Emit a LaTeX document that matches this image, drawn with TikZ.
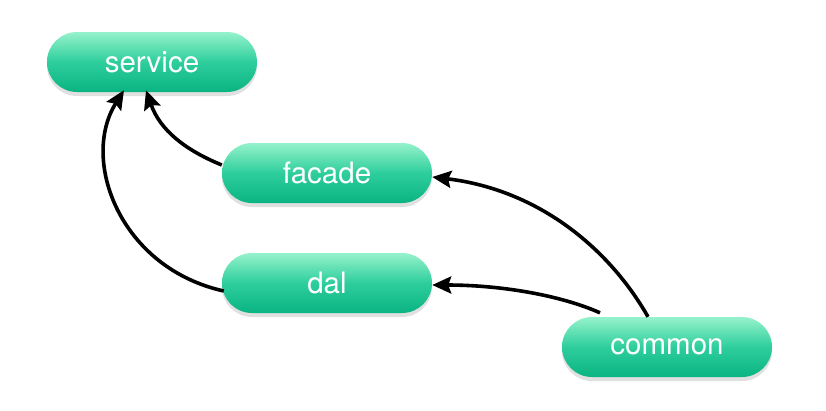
\documentclass[tikz,border=0pt]{standalone}
\usepackage{fontspec}
\setmainfont{TeX Gyre Heros}
\usetikzlibrary{arrows.meta,calc}
\definecolor{gtop}{RGB}{150,242,204}
\definecolor{gmid}{RGB}{45,206,156}
\definecolor{gbot}{RGB}{10,180,130}
\tikzset{
  box/.style={minimum width=210pt,minimum height=60pt,rounded corners=30pt,
    top color=gtop,bottom color=gbot,middle color=gmid,text=white,
    font=\fontsize{29.5}{32}\selectfont,inner sep=0pt,
    preaction={fill=black,opacity=0.12,transform canvas={yshift=-4pt}}},
  conn/.style={line width=3.6pt,-{Stealth[length=19pt,width=17pt,inset=3pt]}}
}
\begin{document}
\begin{tikzpicture}[x=1pt,y=-1pt]
\useasboundingbox (0,0) rectangle (826,410);
\node[box] (service) at (152,62) {service};
\node[box] (facade) at (327,173) {facade};
\node[box] (dal) at (327,283) {dal};
\node[box] (common) at (667,347) {common};
\draw[conn] ($(dal.west)+(2,8)$) .. controls (120,268) and (80,160) .. ($(service.south)+(-28,-2)$);
\draw[conn] ($(facade.west)+(0,-8)$) .. controls (185,150) and (160,130) .. ($(service.south)+(-6,-2)$);
\draw[conn] ($(common.north)+(-19,0)$) .. controls (610,250) and (540,190) .. ($(facade.east)+(0,4)$);
\draw[conn] ($(common.north)+(-67,-4)$) .. controls (560,295) and (500,285) .. ($(dal.east)+(0,2)$);
\end{tikzpicture}
\end{document}
